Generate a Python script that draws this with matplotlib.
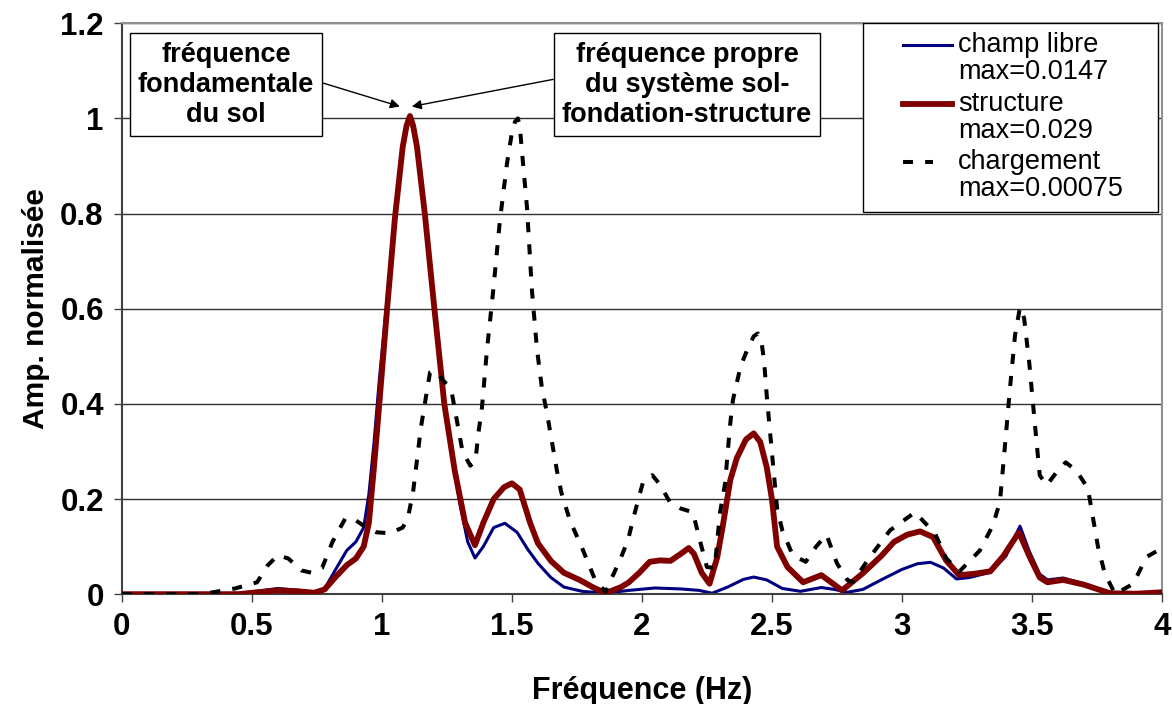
import matplotlib
matplotlib.use('Agg')
import matplotlib.pyplot as plt
from matplotlib.lines import Line2D
from matplotlib.patches import Rectangle

plt.rcParams['font.family'] = ['Liberation Sans', 'DejaVu Sans']

# champ libre (normalised)
f_libre = [0.0, 0.3, 0.45, 0.52, 0.6, 0.68, 0.74, 0.78, 0.82, 0.865, 0.9, 0.93, 0.95, 0.97,
           0.99, 1.02, 1.05, 1.08, 1.093, 1.105, 1.118, 1.135, 1.165, 1.2, 1.24, 1.27, 1.3, 1.33,
           1.358, 1.39, 1.43, 1.473, 1.52, 1.56, 1.6, 1.65, 1.7, 1.77, 1.86, 1.95, 2.05, 2.15, 2.22,
           2.27, 2.33, 2.39, 2.43, 2.48, 2.54, 2.61, 2.69, 2.74, 2.79, 2.85, 2.92, 3.0, 3.06,
           3.11, 3.16, 3.21, 3.26, 3.34, 3.4, 3.454, 3.49, 3.53, 3.56, 3.62, 3.7, 3.8, 3.9, 4.0]
a_libre = [0.0, 0.0, 0.002, 0.006, 0.012, 0.008, 0.003, 0.012, 0.05, 0.092, 0.11, 0.14, 0.21, 0.32,
           0.45, 0.62, 0.80, 0.94, 0.98, 1.0, 0.98, 0.94, 0.80, 0.61, 0.40, 0.29, 0.19, 0.11,
           0.076, 0.10, 0.14, 0.149, 0.13, 0.095, 0.065, 0.035, 0.015, 0.006, 0.002, 0.008, 0.013, 0.011, 0.008,
           0.002, 0.015, 0.031, 0.036, 0.03, 0.012, 0.006, 0.014, 0.01, 0.004, 0.01, 0.03, 0.052, 0.064,
           0.067, 0.055, 0.032, 0.035, 0.046, 0.08, 0.143, 0.09, 0.042, 0.03, 0.034, 0.022, 0.003, 0.002, 0.005]

# structure (normalised)
f_struct = [0.0, 0.45, 0.52, 0.6, 0.68, 0.74, 0.78, 0.82, 0.865, 0.9, 0.93, 0.95, 0.97, 0.99,
            1.02, 1.05, 1.08, 1.095, 1.108, 1.12, 1.135, 1.165, 1.2, 1.24, 1.28, 1.32, 1.358, 1.39,
            1.43, 1.47, 1.5, 1.53, 1.57, 1.6, 1.65, 1.7, 1.76, 1.81, 1.86, 1.92, 1.95, 1.99, 2.03,
            2.07, 2.11, 2.15, 2.18, 2.2, 2.23, 2.26, 2.29, 2.31, 2.34, 2.365, 2.4, 2.43, 2.455, 2.48,
            2.5, 2.52, 2.56, 2.62, 2.69, 2.77, 2.85, 2.92, 2.97, 3.02, 3.07, 3.12, 3.17, 3.22, 3.28,
            3.34, 3.39, 3.45, 3.49, 3.53, 3.56, 3.62, 3.7, 3.8, 3.9, 4.0]
a_struct = [0.0, 0.0, 0.004, 0.008, 0.006, 0.003, 0.01, 0.035, 0.061, 0.075, 0.1, 0.15, 0.27, 0.40,
            0.60, 0.79, 0.94, 0.985, 1.005, 0.985, 0.94, 0.80, 0.61, 0.40, 0.26, 0.15, 0.103, 0.15,
            0.2, 0.225, 0.233, 0.22, 0.15, 0.107, 0.07, 0.045, 0.03, 0.015, 0.002, 0.015, 0.025, 0.045, 0.068,
            0.071, 0.07, 0.085, 0.097, 0.085, 0.045, 0.022, 0.078, 0.14, 0.24, 0.286, 0.325, 0.338, 0.32, 0.267,
            0.2, 0.1, 0.057, 0.025, 0.04, 0.008, 0.044, 0.08, 0.11, 0.125, 0.132, 0.12, 0.071, 0.04, 0.043,
            0.048, 0.08, 0.13, 0.08, 0.035, 0.025, 0.03, 0.02, 0.002, 0.001, 0.004]

# chargement (normalised)
f_charg = [0.0, 0.3, 0.35, 0.435, 0.52, 0.56, 0.6, 0.64, 0.69, 0.73, 0.77, 0.81, 0.86, 0.9,
           0.94, 0.98, 1.03, 1.08, 1.1, 1.12, 1.15, 1.185, 1.2, 1.22, 1.25, 1.27, 1.29, 1.31, 1.34,
           1.36, 1.37, 1.385, 1.404, 1.427, 1.454, 1.481, 1.5, 1.512, 1.523, 1.531, 1.538, 1.558,
           1.577, 1.596, 1.615, 1.635, 1.654, 1.673, 1.69, 1.723, 1.77, 1.82, 1.86, 1.915, 1.946,
           1.973, 2.004, 2.04, 2.07, 2.108, 2.15, 2.196, 2.223, 2.25, 2.28, 2.3, 2.32, 2.338, 2.35,
           2.38, 2.41, 2.43, 2.446, 2.46, 2.47, 2.48, 2.5, 2.52, 2.54, 2.58, 2.63, 2.67, 2.71, 2.75,
           2.79, 2.81, 2.877, 2.954, 3.05, 3.127, 3.17, 3.22, 3.3, 3.35, 3.377, 3.396, 3.415, 3.435,
           3.454, 3.47, 3.49, 3.51, 3.53, 3.557, 3.6, 3.63, 3.67, 3.715, 3.735, 3.754, 3.78, 3.82,
           3.89, 3.94, 3.985, 4.0]
a_charg = [0.0, 0.0, 0.004, 0.012, 0.025, 0.06, 0.082, 0.075, 0.05, 0.045, 0.055, 0.11, 0.16, 0.155,
           0.14, 0.13, 0.128, 0.14, 0.16, 0.215, 0.35, 0.466, 0.47, 0.46, 0.44, 0.42, 0.36, 0.30, 0.27,
           0.28, 0.334, 0.393, 0.513, 0.632, 0.786, 0.905, 0.97, 0.993, 1.0, 0.98, 0.935, 0.813,
           0.639, 0.517, 0.435, 0.38, 0.32, 0.26, 0.214, 0.155, 0.097, 0.03, 0.005, 0.071, 0.113,
           0.172, 0.235, 0.25, 0.23, 0.193, 0.18, 0.172, 0.113, 0.057, 0.055, 0.17, 0.233, 0.35, 0.408,
           0.48, 0.52, 0.542, 0.548, 0.53, 0.49, 0.418, 0.298, 0.18, 0.134, 0.082, 0.068, 0.1, 0.125, 0.065,
           0.03, 0.025, 0.078, 0.134, 0.172, 0.128, 0.076, 0.047, 0.092, 0.145, 0.194, 0.31, 0.429, 0.544,
           0.603, 0.58, 0.485, 0.366, 0.25, 0.229, 0.26, 0.277, 0.26, 0.223, 0.16, 0.1, 0.044, 0.0,
           0.022, 0.078, 0.092, 0.09]

leg_names = ['champ libre', 'structure', 'chargement']
leg_max = ['max=0.0147', 'max=0.029', 'max=0.00075']
xticks = [0, 0.5, 1, 1.5, 2, 2.5, 3, 3.5, 4]
xticklabels = ['0', '0.5', '1', '1.5', '2', '2.5', '3', '3.5', '4']
yticks = [0, 0.2, 0.4, 0.6, 0.8, 1, 1.2]
yticklabels = ['0', '0.2', '0.4', '0.6', '0.8', '1', '1.2']

blue = '#000080'
red = '#800000'
styles = [dict(color=blue, lw=2.2, solid_joinstyle='round'),
          dict(color=red, lw=4.2, solid_joinstyle='round'),
          dict(color='black', lw=2.9, dashes=(2.5, 3.0))]

fig = plt.figure(figsize=(11.72, 7.04), dpi=100)
ax = fig.add_axes([0.104, 0.156, 0.8874, 0.811])

ax.plot(f_libre, a_libre, zorder=2, **styles[0])
ax.plot(f_struct, a_struct, zorder=3, **styles[1])
ax.plot(f_charg, a_charg, zorder=3.5, **styles[2])

ax.set_xlim(0, 4)
ax.set_ylim(0, 1.2)
ax.set_xticks(xticks)
ax.set_xticklabels(xticklabels)
ax.set_yticks(yticks)
ax.set_yticklabels(yticklabels)
for t in ax.get_xticklabels() + ax.get_yticklabels():
    t.set_fontweight('bold')
    t.set_fontsize(22.5)
ax.tick_params(axis='both', direction='out', length=6, width=1, color='#404040')
ax.tick_params(axis='y', pad=7)
ax.tick_params(axis='x', pad=7)

ax.yaxis.grid(True, color='#303030', lw=1)
ax.set_axisbelow(True)

for s in ['left', 'bottom']:
    ax.spines[s].set_color('#404040')
    ax.spines[s].set_linewidth(1.5)
for s in ['top', 'right']:
    ax.spines[s].set_color('#909090')
    ax.spines[s].set_linewidth(1.5)

ax.set_xlabel('Fréquence (Hz)', fontsize=22, fontweight='bold', labelpad=24)
ax.set_ylabel('Amp. normalisée', fontsize=21.5, fontweight='bold', labelpad=7)

# annotations
arrow = dict(arrowstyle='-|>', color='black', lw=1, mutation_scale=14, shrinkA=0, shrinkB=0)
box = dict(boxstyle='square,pad=0.3', fc='white', ec='black', lw=1)
ax.annotate('fréquence\nfondamentale\ndu sol', xy=(1.069, 1.025), xytext=(0.4, 1.071),
            ha='center', va='center', fontsize=19.5, fontweight='bold', linespacing=1.2,
            bbox=box, arrowprops=dict(arrow, relpos=(1, 0.55)), zorder=6)
ax.annotate('fréquence propre\ndu système sol-\nfondation-structure', xy=(1.115, 1.025),
            xytext=(2.173, 1.071), ha='center', va='center', fontsize=19.5,
            fontweight='bold', linespacing=1.2, bbox=box,
            arrowprops=dict(arrow, relpos=(0, 0.58)), zorder=6)

# legend drawn by hand (axes fraction)
ax.add_patch(Rectangle((0.7125, 0.669), 0.2837, 0.331, transform=ax.transAxes,
                       fc='white', ec='black', lw=1, zorder=5))
row_y = [0.961, 0.858, 0.757]
for i in range(3):
    x_end = 0.798 if i < 2 else 0.78
    ax.add_line(Line2D([0.751, x_end], [row_y[i], row_y[i]], transform=ax.transAxes,
                       zorder=6, **styles[i]))
    ax.text(0.804, row_y[i], leg_names[i], transform=ax.transAxes, fontsize=19.5,
            va='center', ha='left', zorder=6)
    ax.text(0.804, row_y[i] - 0.047, leg_max[i], transform=ax.transAxes, fontsize=19.5,
            va='center', ha='left', zorder=6)

fig.savefig('out.png', dpi=100)
